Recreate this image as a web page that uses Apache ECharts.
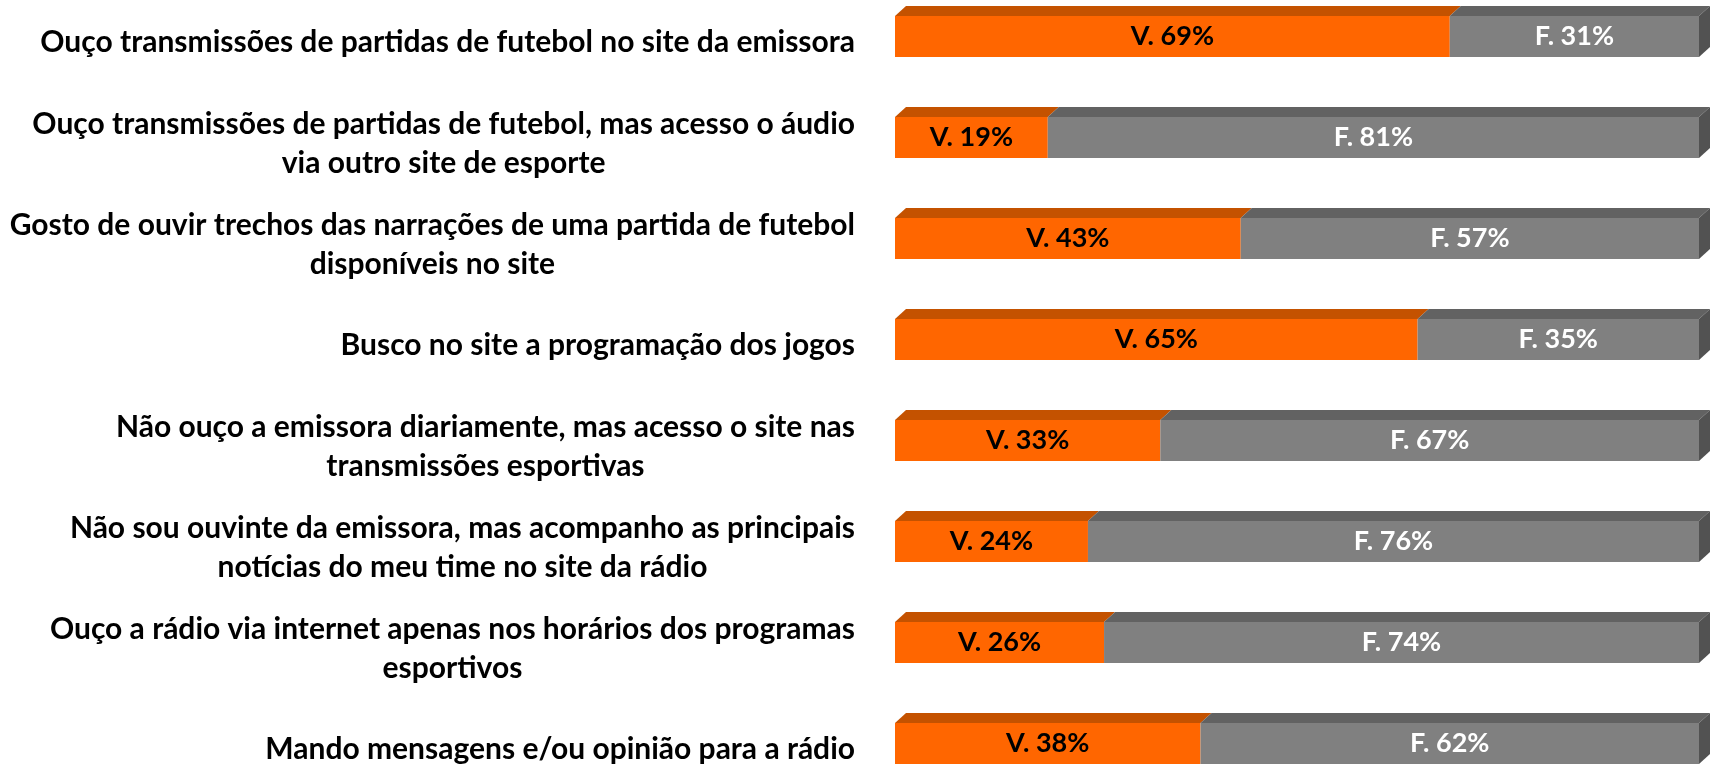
<!DOCTYPE html>
<html>
<head>
<meta charset="utf-8">
<script src="https://cdn.jsdelivr.net/npm/echarts@6/dist/echarts.min.js"></script>
<style>
  html, body { margin: 0; padding: 0; background: #fff; }
  #chart { width: 1714px; height: 767px; }
</style>
</head>
<body>
<div id="chart"></div>
<script>
const categories = [
  'Ouço transmissões de partidas de futebol no site da emissora',
  'Ouço transmissões de partidas de futebol, mas acesso o áudio\nvia outro site de esporte',
  'Gosto de ouvir trechos das narrações de uma partida de futebol\ndisponíveis no site',
  'Busco no site a programação dos jogos',
  'Não ouço a emissora diariamente, mas acesso o site nas\ntransmissões esportivas',
  'Não sou ouvinte da emissora, mas acompanho as principais\nnotícias do meu time no site da rádio',
  'Ouço a rádio via internet apenas nos horários dos programas\nesportivos',
  'Mando mensagens e/ou opinião para a rádio'
];
const trueValues = [69, 19, 43, 65, 33, 24, 26, 38];
const falseValues = [31, 81, 57, 35, 67, 76, 74, 62];

const FONT = 'Lato, "Open Sans", sans-serif';
const DX = 11, DY = 10;

// segmento 3D: frente + topo (+ lateral no último)
function makeRender(front, topColor, sideColor, textColor, prefix, last) {
  return function (params, api) {
    const cat = api.value(2);
    const p0 = api.coord([api.value(0), cat]);
    const p1 = api.coord([api.value(1), cat]);
    const h = api.size([0, 1])[1] * 0.405;
    const top = p0[1] - h / 2;
    const bottom = p0[1] + h / 2;
    const x0 = p0[0], x1 = p1[0];
    const children = [
      {
        type: 'polygon',
        shape: { points: [[x0, top], [x1, top], [x1 + DX, top - DY], [x0 + DX, top - DY]] },
        style: { fill: topColor }
      },
      {
        type: 'rect',
        shape: { x: x0, y: top, width: x1 - x0, height: h },
        style: { fill: front }
      }
    ];
    if (last) {
      children.push({
        type: 'polygon',
        shape: { points: [[x1, top], [x1 + DX, top - DY], [x1 + DX, bottom - DY], [x1, bottom]] },
        style: { fill: sideColor }
      });
    }
    children.push({
      type: 'text',
      style: {
        text: prefix + api.value(3) + '%',
        x: (x0 + x1) / 2,
        y: p0[1],
        align: 'center',
        verticalAlign: 'middle',
        fill: textColor,
        font: 'bold 27px ' + FONT
      }
    });
    return { type: 'group', children: children };
  };
}

const chart = echarts.init(document.getElementById('chart'));
chart.setOption({
  animation: false,
  grid: { left: 895, right: 15, top: -14, height: 808, outerBoundsMode: 'none', containLabel: false },
  xAxis: { type: 'value', min: 0, max: 100, show: false },
  yAxis: {
    type: 'category',
    data: categories,
    inverse: true,
    axisLine: { show: false },
    axisTick: { show: false },
    splitLine: { show: false },
    axisLabel: {
      margin: 40,
      padding: [12, 0, 0, 0],
      formatter: function (v) {
        return v.split('\n').map(function (l) { return '{c|' + l + '}'; }).join('\n');
      },
      rich: {
        c: {
          align: 'center',
          fontFamily: FONT,
          fontWeight: 'bold',
          fontSize: 30,
          lineHeight: 39,
          color: '#000'
        }
      }
    }
  },
  series: [
    {
      type: 'custom',
      renderItem: makeRender('#FF6600', '#C45200', '#A04400', '#000', 'V. ', false),
      encode: { x: [0, 1], y: 2 },
      data: trueValues.map(function (v, i) { return [0, v, i, v]; })
    },
    {
      type: 'custom',
      renderItem: makeRender('#808080', '#626262', '#525252', '#fff', 'F. ', true),
      encode: { x: [0, 1], y: 2 },
      data: falseValues.map(function (v, i) { return [trueValues[i], trueValues[i] + v, i, v]; })
    }
  ]
});
</script>
</body>
</html>
